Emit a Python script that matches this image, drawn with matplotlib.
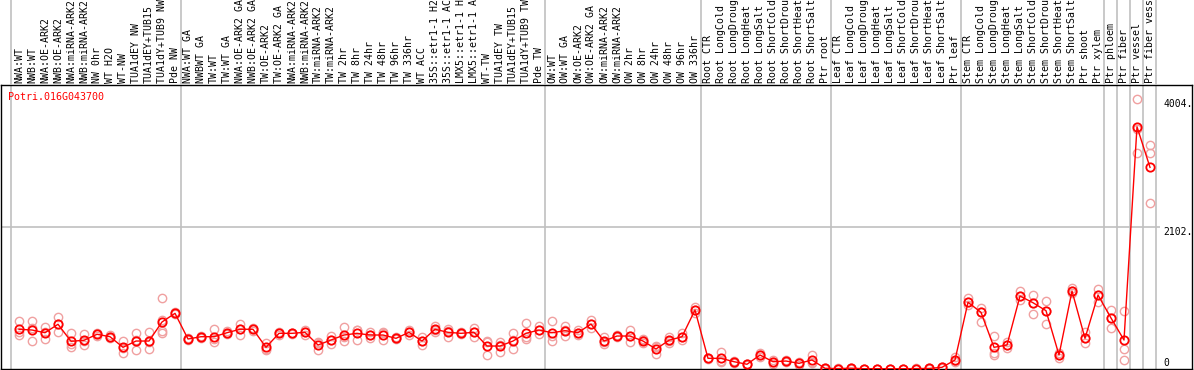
import numpy as np
import matplotlib
matplotlib.use("Agg")
import matplotlib.pyplot as plt

# 샘플 이름 (그림에서 14자로 잘린 그대로)
labels = [
    "NWA:WT", "NWB:WT", "NWA:OE-ARK2", "NWB:OE-ARK2", "NWA:miRNA-ARK2", "NWB:miRNA-ARK2",
    "NW 0hr", "WT H2O", "WT-NW", "TUA1dEY NW", "TUA1dEY+TUB15", "TUA1dY+TUB9 NW", "Pde NW",
    "NWA:WT GA", "NWBWT GA", "TW:WT", "TW:WT GA", "NWA:OE-ARK2 GA", "NWB:OE-ARK2 GA",
    "TW:OE-ARK2", "TW:OE-ARK2 GA", "NWA:miRNA-ARK2", "NWB:miRNA-ARK2", "TW:miRNA-ARK2",
    "TW:miRNA-ARK2", "TW 2hr", "TW 8hr", "TW 24hr", "TW 48hr", "TW 96hr", "TW 336hr", "WT ACC",
    "35S::etr1-1 H2", "35S::etr1-1 AC", "LMX5::etr1-1 H", "LMX5::etr1-1 A", "WT-TW",
    "TUA1dEY TW", "TUA1dEY+TUB15", "TUA1dY+TUB9 TW", "Pde TW",
    "OW:WT", "OW:WT GA", "OW:OE-ARK2", "OW:OE-ARK2 GA", "OW:miRNA-ARK2", "OW:miRNA-ARK2",
    "OW 2hr", "OW 8hr", "OW 24hr", "OW 48hr", "OW 96hr", "OW 336hr",
    "Root CTR", "Root LongCold", "Root LongDroug", "Root LongHeat", "Root LongSalt",
    "Root ShortCold", "Root ShortDrou", "Root ShortHeat", "Root ShortSalt", "Ptr root",
    "Leaf CTR", "Leaf LongCold", "Leaf LongDroug", "Leaf LongHeat", "Leaf LongSalt",
    "Leaf ShortCold", "Leaf ShortDrou", "Leaf ShortHeat", "Leaf ShortSalt", "Ptr leaf",
    "Stem CTR", "Stem LongCold", "Stem LongDroug", "Stem LongHeat", "Stem LongSalt",
    "Stem ShortCold", "Stem ShortDrou", "Stem ShortHeat", "Stem ShortSalt", "Ptr shoot",
    "Ptr xylem", "Ptr phloem", "Ptr fiber", "Ptr vessel", "Ptr fiber vess",
]

# 평균값
means = [
    588, 577, 537, 662, 410, 425, 514, 478, 321, 414, 414, 696, 824,
    444, 478, 478, 537, 588, 588, 321, 528, 528, 543, 355, 429, 503, 528, 503, 503,
    454, 543, 414, 588, 543, 528, 543, 340, 340, 414, 528, 577,
    537, 567, 537, 666, 414, 488, 488, 414, 296, 425, 478, 873,
    158, 158, 108, 70, 207, 108, 118, 84, 133, 10,
    6, 12, 4, 5, 3, 4, 6, 8, 25, 133,
    987, 839, 321, 355, 1080, 981, 863, 207, 1154, 454,
    1095, 755, 429, 3586, 2985,
]

# 반복 측정값
reps = [
    [715, 546, 503], [715, 602, 414], [626, 545, 440], [770, 664, 552], [528, 372, 330],
    [514, 410, 351], [540, 514, 488], [503, 478, 454], [414, 308, 241], [528, 433, 281],
    [543, 407, 292], [1046, 720, 560, 528], [840, 824, 808],
    [460, 444, 428], [490, 478, 466], [588, 442, 404], [560, 537, 515], [670, 591, 503],
    [610, 588, 566], [380, 302, 281], [550, 528, 506], [540, 528, 516], [580, 543, 503],
    [404, 380, 281], [488, 433, 366], [626, 469, 414], [578, 577, 429], [552, 503, 454],
    [552, 528, 429], [470, 454, 440], [577, 543, 509], [469, 418, 355], [641, 572, 552],
    [588, 563, 478], [543, 528, 514], [602, 549, 478], [414, 399, 207], [404, 360, 256],
    [528, 422, 292], [676, 468, 440], [641, 576, 514],
    [715, 482, 414], [641, 572, 488], [577, 537, 497], [725, 671, 602], [478, 394, 370],
    [500, 488, 476], [577, 483, 404], [440, 422, 380], [336, 330, 222], [478, 417, 380],
    [528, 478, 429], [922, 873, 824],
    [170, 158, 146], [247, 119, 108], [120, 108, 96], [80, 70, 60], [232, 207, 182],
    [140, 108, 76], [130, 118, 106], [108, 85, 59], [212, 100, 87], [15, 10, 5],
    [8, 6, 4], [18, 12, 6], [6, 4, 2], [7, 5, 3], [5, 3, 1], [6, 4, 2], [8, 6, 4],
    [10, 8, 6], [30, 25, 20], [182, 120, 97],
    [1046, 987, 947], [907, 839, 691], [488, 241, 207], [404, 355, 306], [1159, 1080, 1021],
    [1095, 981, 810], [1011, 863, 666], [232, 207, 158], [1194, 1154, 1120], [552, 454, 380],
    [1184, 1095, 996], [873, 755, 602], [858, 292, 133], [4004, 3560, 3192], [3315, 3192, 2461],
]

group_breaks = [-0.6, 12.45, 40.45, 52.45, 62.45, 72.45, 83.45, 84.45, 85.45, 86.45, 87.45]
y_max = 4204
y_ticks = [0, 2102, 4004]
y_tick_text = ["0", "2102.", "4004."]
gene = "Potri.016G043700"

W, H = 1194, 370
fig = plt.figure(figsize=(W / 100, H / 100), dpi=100)
ax = fig.add_axes([1 / W, 1 / H, 1191 / W, 284 / H])
hd = fig.add_axes([1 / W, 285 / H, 1191 / W, 85 / H], sharex=ax)

x = np.arange(len(labels))
grey = "#c0c0c0"

for b in group_breaks:
    ax.axvline(b, color=grey, lw=1.2, zorder=1)
    hd.axvline(b, color=grey, lw=1.2, zorder=1)
ax.hlines(y_max / 2, -2, 87.8, color=grey, lw=1.2, zorder=1)

for i, r in enumerate(reps):
    ax.plot([i] * len(r), r, "o", ms=6, mfc="none", mec="#f0a0a0", mew=1.0, zorder=2)
ax.plot(x, means, "-", color="red", lw=1.0, zorder=3)
ax.plot(x, means, "o", ms=6, mfc="none", mec="red", mew=1.3, zorder=4)

ax.set_xlim((1 - 19) / 13, (1192 - 19) / 13)
ax.set_ylim(0, y_max)
ax.set_xticks([])
ax.set_yticks([])
for s in ax.spines.values():
    s.set_linewidth(1.0)

for v, t in zip(y_ticks, y_tick_text):
    ax.text(88.0, v if v else 20, t, ha="left", va="top" if v else "bottom",
            fontsize=7, family="DejaVu Sans Mono")

fig.text(8 / W, 1 - 97 / H, gene, color="red", fontsize=7.2,
         family="DejaVu Sans Mono", va="center", ha="left")

hd.set_ylim(0, 1)
hd.axis("off")
for i, lab in enumerate(labels):
    hd.text(i, 0.02, lab, rotation=90, ha="center", va="bottom",
            fontsize=7.1, family="DejaVu Sans Mono")

fig.savefig("out.png", dpi=100)
